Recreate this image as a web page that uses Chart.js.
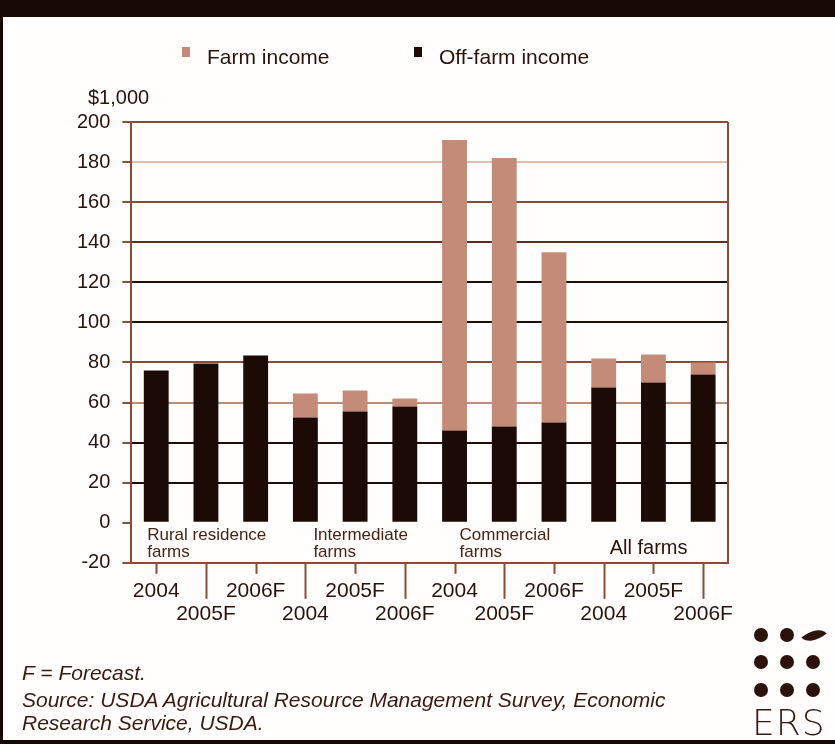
<!DOCTYPE html>
<html>
<head>
<meta charset="utf-8">
<script src="https://cdn.jsdelivr.net/npm/chart.js@4.4.0/dist/chart.umd.min.js"></script>
<style>
body { margin: 0; background: #fff; }
#wrap { position: relative; width: 835px; height: 744px; background: #fffefd; overflow: hidden; font-family: "Liberation Sans", Arial, sans-serif; }
#wrap canvas { position: absolute; left: 0; top: 0; }
.frame-top { position: absolute; left: 0; top: 0; width: 835px; height: 17px; background: #170804; }
.frame-left { position: absolute; left: 0; top: 0; width: 3px; height: 744px; background: #170804; }
.frame-bottom { position: absolute; left: 0; bottom: 0; width: 835px; height: 4px; background: #170804; }
.unit { position: absolute; left: 88px; top: 86px; font-size: 20px; color: #2b120a; }
.notes { position: absolute; left: 22px; top: 661px; font-size: 21px; font-style: italic; color: #3a1a10; line-height: 23px; }
.notes div:first-child { margin-bottom: 4px; }
.ers { position: absolute; left: 750px; top: 624px; width: 80px; height: 115px; }
.ers .dot { position: absolute; width: 14px; height: 14px; border-radius: 50%; background: #2b120a; }
.ers .leaf { position: absolute; width: 22px; height: 13px; background: #2b120a; border-radius: 0 100% 0 100%; transform: rotate(-40deg); }
.ers .name { position: absolute; left: 2px; top: 78px; font-size: 36px; color: #3a1a10; letter-spacing: 1px; font-family: "DejaVu Sans", sans-serif; font-weight: 300; }
</style>
</head>
<body>
<div id="wrap">
  <canvas id="incomeChart" width="835" height="744"></canvas>
  <div class="frame-top"></div>
  <div class="frame-left"></div>
  <div class="frame-bottom"></div>
  <div class="unit">$1,000</div>
  <div class="notes">
    <div>F = Forecast.</div>
    <div>Source: USDA Agricultural Resource Management Survey, Economic</div>
    <div>Research Service, USDA.</div>
  </div>
  <div class="ers">
    <div class="dot" style="left:4px;top:4px"></div>
    <div class="dot" style="left:30px;top:4px"></div>
    <div class="leaf" style="left:53px;top:5px"></div>
    <div class="dot" style="left:4px;top:31px"></div>
    <div class="dot" style="left:30px;top:31px"></div>
    <div class="dot" style="left:56px;top:31px"></div>
    <div class="dot" style="left:4px;top:59px"></div>
    <div class="dot" style="left:30px;top:59px"></div>
    <div class="dot" style="left:56px;top:59px"></div>
    <div class="name">ERS</div>
  </div>
</div>
<script>
// values in $1,000 per household
const categories = ['2004', '2005F', '2006F', '2004', '2005F', '2006F', '2004', '2005F', '2006F', '2004', '2005F', '2006F'];
const offFarmIncome = [76, 79.5, 83.5, 52.5, 55.5, 58, 46, 48, 50, 67.5, 70, 74];
const farmIncome = [0, 0, 0, 12, 10.5, 4, 145, 134, 85, 14.5, 14, 6];
const groupNames = [['Rural residence', 'farms'], ['Intermediate', 'farms'], ['Commercial', 'farms'], ['All farms']];
const groupStart = [0, 3, 6, 9];
const yMin = -20;
const yMax = 200;
const yStep = 20;

const FONT = '"Liberation Sans", Arial, sans-serif';
const DARK = '#1b0a06';
const BROWN = '#8c4b36';
const TEXT = '#2b120a';

function gridColor(v) {
    if (v === 180) return '#e2bcad';
    if (v === 60) return '#c08a78';
    if (v === 120 || v === 100 || v === 40 || v === 20) return '#1e0d08';
    if (v === 140) return '#5e2d20';
    if (v === 0 || v === yMin) return 'rgba(0,0,0,0)';
    return BROWN;
}

// legend, group names, x tick marks and right border of the plot
const extras = {
    id: 'extras',
    afterDraw(chart) {
        const ctx = chart.ctx;
        const area = chart.chartArea;
        const x = chart.scales.x;
        ctx.save();

        // legend
        const items = [chart.data.datasets[1], chart.data.datasets[0]];
        const lx = [182, 414];
        ctx.font = '21px ' + FONT;
        ctx.textBaseline = 'middle';
        items.forEach((ds, k) => {
            ctx.fillStyle = ds.backgroundColor;
            ctx.fillRect(lx[k], 47, 8, 10);
            ctx.fillStyle = TEXT;
            ctx.fillText(ds.label, lx[k] + 25, 58);
        });

        // right border
        ctx.strokeStyle = BROWN;
        ctx.lineWidth = 2;
        ctx.beginPath();
        ctx.moveTo(area.right, area.top);
        ctx.lineTo(area.right, area.bottom);
        ctx.stroke();

        // tick marks, long ones under the lower row of labels
        for (let i = 0; i < categories.length; i++) {
            const px = Math.round(x.getPixelForTick(i)) + 0.5;
            ctx.beginPath();
            ctx.moveTo(px, area.bottom);
            ctx.lineTo(px, area.bottom + (i % 2 ? 36 : 11));
            ctx.stroke();
        }

        // group names inside the plot
        const offs = [-9, 8, 5, 6];
        groupNames.forEach((lines, g) => {
            const gx = x.getPixelForValue(groupStart[g]) + offs[g];
            if (lines.length === 1) {
                ctx.font = '20px ' + FONT;
                ctx.fillStyle = TEXT;
                ctx.fillText(lines[0], gx, 548);
            } else {
                ctx.font = '17px ' + FONT;
                ctx.fillStyle = '#4a2214';
                lines.forEach((t, j) => ctx.fillText(t, gx, 535 + j * 17));
            }
        });
        ctx.restore();
    }
};

new Chart(document.getElementById('incomeChart'), {
    type: 'bar',
    data: {
        labels: categories,
        datasets: [{
            label: 'Off-farm income',
            data: offFarmIncome,
            backgroundColor: DARK,
            stack: 'income'
        }, {
            label: 'Farm income',
            data: farmIncome,
            backgroundColor: '#c48c78',
            stack: 'income'
        }]
    },
    options: {
        responsive: false,
        animation: false,
        layout: { padding: { left: 65, right: 107, top: 122, bottom: 101 } },
        datasets: { bar: { barPercentage: 0.5, categoryPercentage: 1.0 } },
        plugins: {
            legend: { display: false },
            tooltip: { enabled: false }
        },
        scales: {
            x: {
                stacked: true,
                grid: { display: false, drawTicks: false },
                border: { color: BROWN, width: 2 },
                ticks: {
                    autoSkip: false,
                    maxRotation: 0,
                    minRotation: 0,
                    padding: 17,
                    color: TEXT,
                    font: { family: FONT, size: 21, lineHeight: 1.1 },
                    callback: function (v, i) {
                        const lab = this.getLabelForValue(v);
                        return i % 2 ? ['', lab] : lab;
                    }
                }
            },
            y: {
                stacked: true,
                min: yMin,
                max: yMax,
                grid: {
                    color: (c) => gridColor(c.tick.value),
                    lineWidth: 2,
                    tickLength: 9,
                    tickColor: BROWN,
                    tickWidth: 2
                },
                border: { color: BROWN, width: 2 },
                ticks: {
                    stepSize: yStep,
                    padding: 12,
                    color: TEXT,
                    font: { family: FONT, size: 20 }
                }
            }
        }
    },
    plugins: [extras]
});
</script>
</body>
</html>
